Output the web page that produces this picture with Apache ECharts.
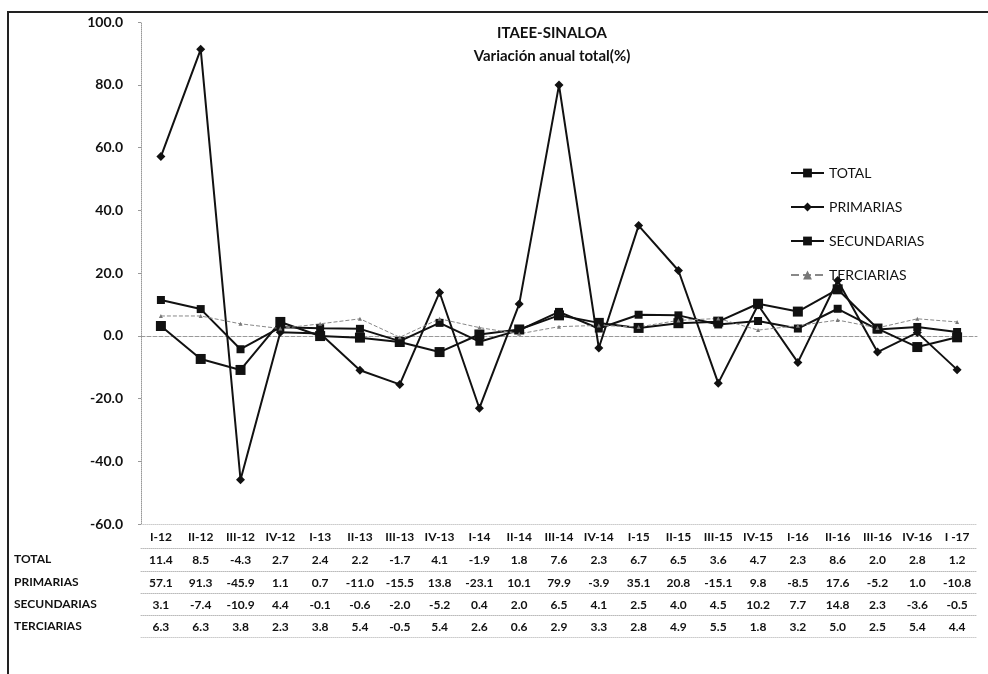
<!DOCTYPE html>
<html>
<head>
<meta charset="utf-8">
<title>ITAEE-SINALOA</title>
<script src="https://cdn.jsdelivr.net/npm/echarts@6/dist/echarts.min.js"></script>
<style>
    html, body { margin: 0; padding: 0; background: #fff; }
    #chart { width: 988px; height: 674px; }
</style>
</head>
<body>
<div id="chart"></div>
<script>
// trimestres
const categories = ['I-12', 'II-12', 'III-12', 'IV-12', 'I-13', 'II-13', 'III-13', 'IV-13', 'I-14', 'II-14',
    'III-14', 'IV-14', 'I-15', 'II-15', 'III-15', 'IV-15', 'I-16', 'II-16', 'III-16', 'IV-16', 'I -17']

// variación anual (%)
const total = [11.4, 8.5, -4.3, 2.7, 2.4, 2.2, -1.7, 4.1, -1.9, 1.8, 7.6, 2.3, 6.7, 6.5, 3.6, 4.7, 2.3, 8.6, 2.0, 2.8, 1.2]
const primarias = [57.1, 91.3, -45.9, 1.1, 0.7, -11.0, -15.5, 13.8, -23.1, 10.1, 79.9, -3.9, 35.1, 20.8, -15.1, 9.8, -8.5, 17.6, -5.2, 1.0, -10.8]
const secundarias = [3.1, -7.4, -10.9, 4.4, -0.1, -0.6, -2.0, -5.2, 0.4, 2.0, 6.5, 4.1, 2.5, 4.0, 4.5, 10.2, 7.7, 14.8, 2.3, -3.6, -0.5]
const terciarias = [6.3, 6.3, 3.8, 2.3, 3.8, 5.4, -0.5, 5.4, 2.6, 0.6, 2.9, 3.3, 2.8, 4.9, 5.5, 1.8, 3.2, 5.0, 2.5, 5.4, 4.4]

// eje y
const yMin = -60
const yMax = 100
const yStep = 20

const font = 'Lato, "Open Sans", sans-serif'

function initChart() {
    let myChart = echarts.init(document.querySelector('#chart'))

    // filas de la tabla debajo del gráfico
    const rows = [
        { name: 'TOTAL', data: total },
        { name: 'PRIMARIAS', data: primarias },
        { name: 'SECUNDARIAS', data: secundarias },
        { name: 'TERCIARIAS', data: terciarias },
    ]

    const tableAxes = rows.map((row, i) => ({
        type: 'category',
        position: 'bottom',
        offset: [24, 47, 69, 91][i],
        data: row.data.map(v => v.toFixed(1)),
        name: row.name,
        nameLocation: 'start',
        nameGap: 127,
        nameTextStyle: {
            align: 'left',
            verticalAlign: 'top',
            padding: [5, 0, 0, 0],
            fontFamily: font,
            fontWeight: 'bold',
            fontSize: 12,
            color: '#111'
        },
        axisLine: { show: true, onZero: false, lineStyle: { color: '#bbb', type: 'dotted' } },
        axisTick: { show: false },
        axisLabel: { interval: 0, margin: 6, fontFamily: font, fontWeight: 'bold', fontSize: 12, color: '#111' }
    }))

    const option = {
        animation: false,
        backgroundColor: '#fff',
        title: {
            text: 'ITAEE-SINALOA\nVariación anual total(%)',
            left: 547,
            textAlign: 'center',
            top: 17,
            textStyle: {
                fontFamily: font,
                fontWeight: 'bold',
                fontSize: 15,
                lineHeight: 23,
                color: '#111'
            }
        },
        legend: {
            orient: 'vertical',
            left: 785,
            top: 161,
            itemWidth: 33,
            itemHeight: 11,
            itemGap: 20,
            textStyle: { fontFamily: font, fontSize: 14, color: '#111' },
            data: ['TOTAL', 'PRIMARIAS', 'SECUNDARIAS', 'TERCIARIAS']
        },
        graphic: [{
            type: 'rect',
            shape: { x: 8, y: 12, width: 1000, height: 700 },
            style: { fill: 'none', stroke: '#222', lineWidth: 2 },
            silent: true
        }],
        grid: {
            left: 141,
            right: 11,
            top: 22,
            bottom: 150
        },
        xAxis: [
            {
                // línea del cero
                type: 'category',
                data: categories,
                axisLine: { show: true, onZero: true, lineStyle: { color: '#999', type: 'dashed' } },
                axisTick: { show: false },
                axisLabel: { show: false }
            },
            {
                type: 'category',
                position: 'bottom',
                data: categories,
                axisLine: { show: true, onZero: false, lineStyle: { color: '#ccc', type: 'dotted' } },
                axisTick: { show: false },
                axisLabel: { interval: 0, margin: 7, fontFamily: font, fontWeight: 'bold', fontSize: 12, color: '#111' }
            },
            ...tableAxes,
            {
                type: 'category',
                position: 'bottom',
                offset: 113,
                data: categories,
                axisLine: { show: true, onZero: false, lineStyle: { color: '#ccc', type: 'dotted' } },
                axisTick: { show: false },
                axisLabel: { show: false }
            }
        ],
        yAxis: {
            type: 'value',
            min: yMin,
            max: yMax,
            interval: yStep,
            axisLine: { show: true, lineStyle: { color: '#999', type: 'dotted' } },
            axisTick: { show: true, length: 3, lineStyle: { color: '#999' } },
            splitLine: { show: false },
            axisLabel: {
                margin: 18,
                fontFamily: font,
                fontWeight: 'bold',
                fontSize: 14,
                color: '#111',
                formatter: v => v.toFixed(1)
            }
        },
        series: [
            {
                name: 'TOTAL',
                type: 'line',
                data: total,
                symbol: 'rect',
                symbolSize: 8,
                lineStyle: { color: '#111', width: 2 },
                itemStyle: { color: '#111' }
            },
            {
                name: 'PRIMARIAS',
                type: 'line',
                data: primarias,
                symbol: 'diamond',
                symbolSize: 9,
                lineStyle: { color: '#111', width: 2 },
                itemStyle: { color: '#111' }
            },
            {
                name: 'SECUNDARIAS',
                type: 'line',
                data: secundarias,
                symbol: 'rect',
                symbolSize: 10,
                lineStyle: { color: '#111', width: 2 },
                itemStyle: { color: '#111' }
            },
            {
                name: 'TERCIARIAS',
                type: 'line',
                data: terciarias,
                symbol: 'triangle',
                symbolSize: 4,
                lineStyle: { color: '#888', width: 1, type: 'dashed' },
                itemStyle: { color: '#777' }
            }
        ]
    }

    myChart.setOption(option)
}
initChart()
</script>
</body>
</html>
